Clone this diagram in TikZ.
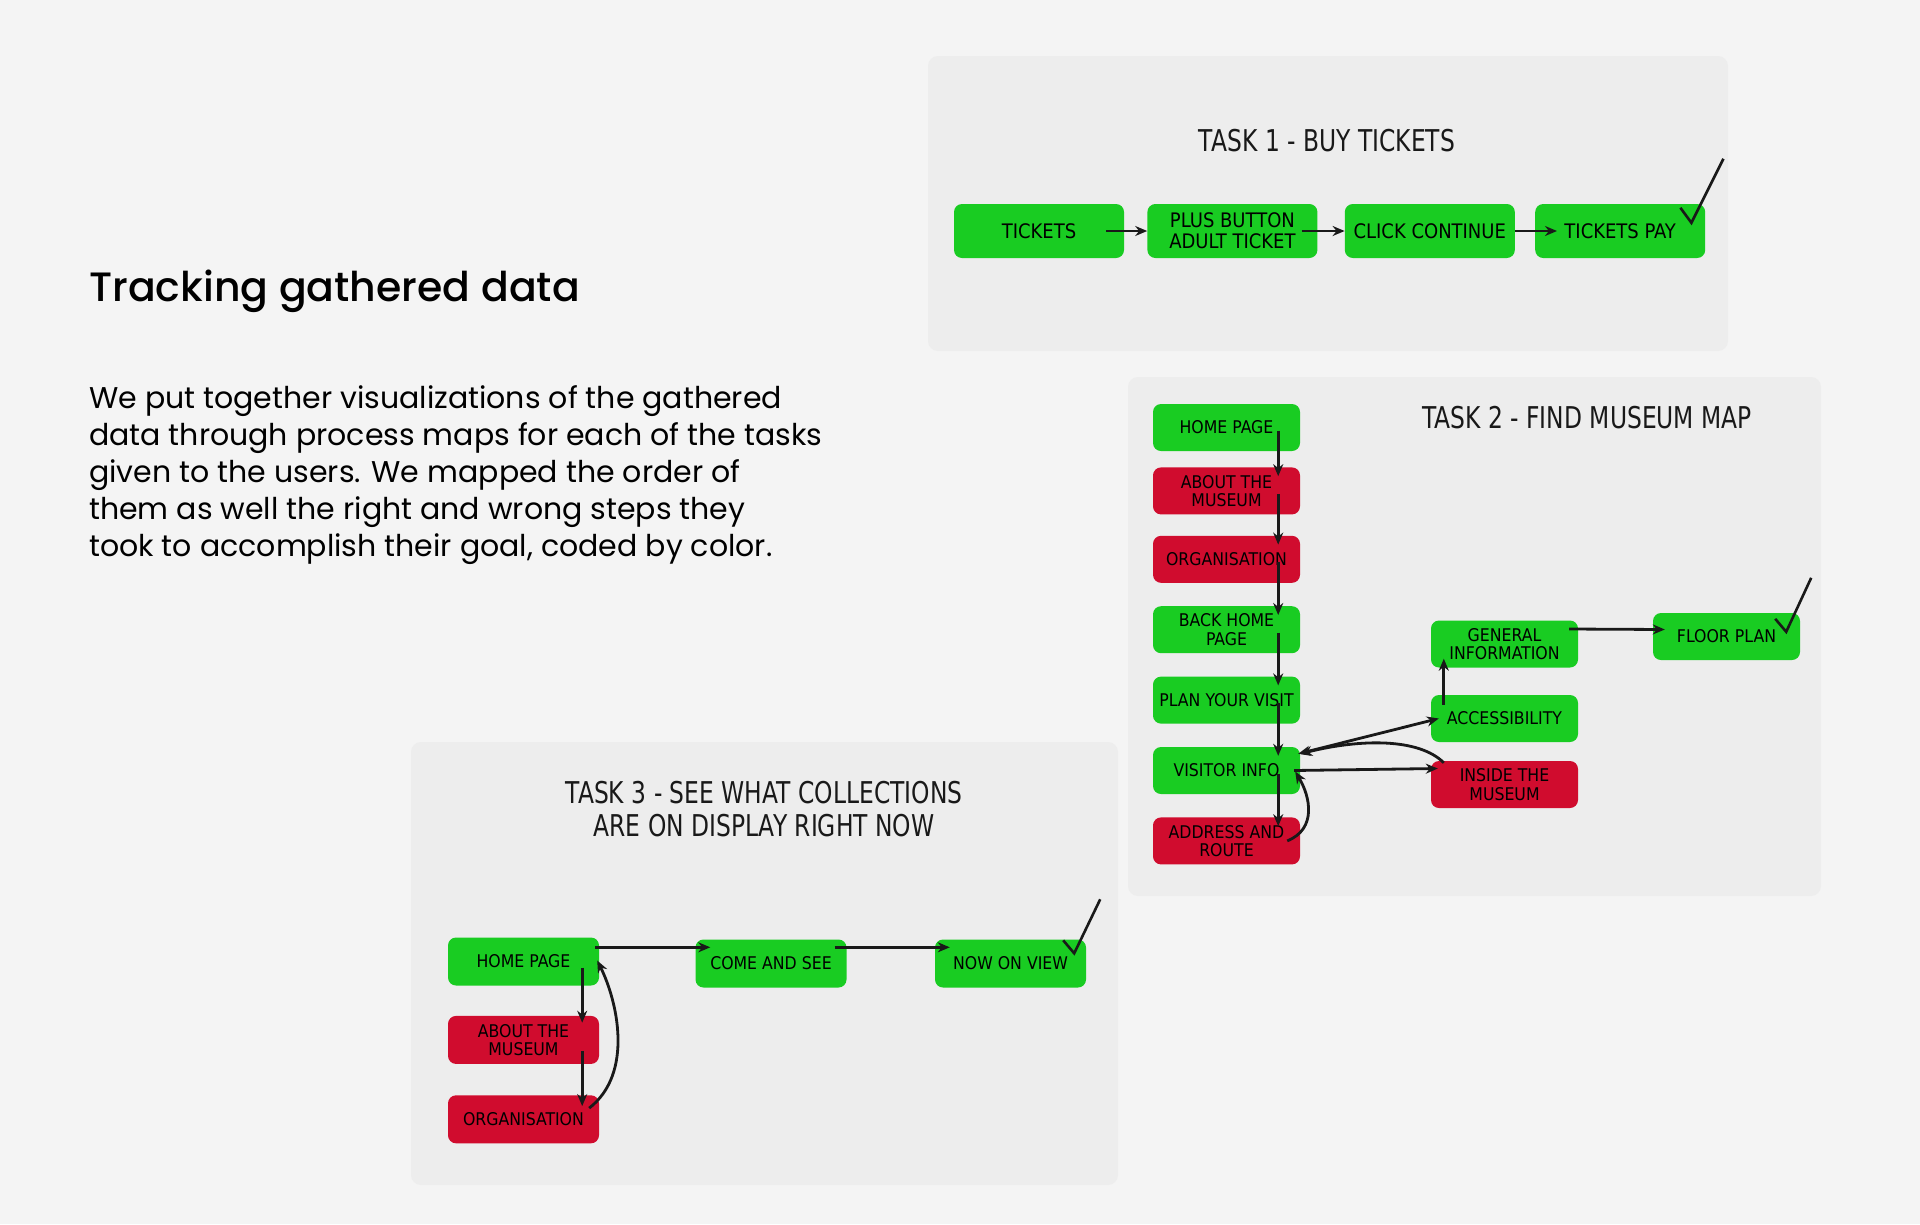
\documentclass[tikz,border=0pt]{standalone}
\usepackage{fontspec}
\setmainfont{Poppins}
\newfontfamily\headfont{Poppins Medium}
\newfontfamily\stepfont{DejaVu Sans Condensed}
\newfontfamily\titlefont{DejaVu Sans}[FakeStretch=0.78]
\usetikzlibrary{calc,positioning,arrows.meta}
\definecolor{pagegrey}{HTML}{F4F4F4}
\definecolor{panelgrey}{HTML}{EDEDED}
\definecolor{okgreen}{HTML}{19CC22}
\definecolor{wrongred}{HTML}{D00C2E}

\begin{document}
\begin{tikzpicture}[x=1pt,y=-1pt]

\tikzset{okstep/.style={font=\stepfont\fontsize{17.5}{18.5}\selectfont,fill=okgreen,rounded corners=8pt,minimum width=147pt,minimum height=47pt,align=center,inner sep=2pt},
wrongstep/.style={okstep,fill=wrongred},
bigstep/.style={font=\stepfont\fontsize{20}{21}\selectfont,minimum width=170pt,minimum height=54pt},
panel/.style={fill=panelgrey,rounded corners=10pt},
tasktitle/.style={font=\titlefont\fontsize{30}{33}\selectfont,text=black!90,align=center},
flow/.style={-{Stealth[length=12pt,width=10pt]},line width=2.8pt,black!90},
tick/.style={line width=2.6pt,black!90}}

% Page and panels
\fill[pagegrey] (0,0) rectangle (1920,1224);
\fill[panel] (928,56) rectangle (1728,351);
\fill[panel] (1128,377) rectangle (1821,896);
\fill[panel] (411,742) rectangle (1118,1185);

% Left text
\node[anchor=base west,inner sep=0pt,font=\headfont\fontsize{41}{48}\selectfont] (heading) at (89,301) {Tracking gathered data};
\node[anchor=north west,align=left,inner sep=0pt,font=\fontsize{30}{37}\selectfont] (blurb) at (89,385) {We put together visualizations of the gathered\\data through process maps for each of the tasks\\given to the users. We mapped the order of\\them as well the right and wrong steps they\\took to accomplish their goal, coded by color.};

% Task 1
\node[tasktitle] (titleone) at (1327,141) {TASK 1 - BUY TICKETS};
\node[okstep,bigstep] (tickets) at (1039,231) {TICKETS};
\node[okstep,bigstep,right=23pt of tickets] (plusbtn) {PLUS BUTTON\\ADULT TICKET};
\node[okstep,bigstep,right=27pt of plusbtn] (clickcont) {CLICK CONTINUE};
\node[okstep,bigstep,right=20pt of clickcont] (ticketspay) {TICKETS PAY};

\draw[flow] ($(tickets.east)+(-18,0)$) -- (plusbtn.west);
\draw[flow] ($(plusbtn.east)+(-16,0)$) -- (clickcont.west);
\draw[flow] (clickcont.east) -- ($(ticketspay.west)+(22,0)$);
\draw[tick] ($(ticketspay.north east)+(-25,4)$) -- ++(11,15) -- ++(32,-64);

% Task 2
\node[tasktitle] (titletwo) at (1587,418) {TASK 2 - FIND MUSEUM MAP};
\node[okstep] (home) at (1226.5,427.5) {HOME PAGE};
\node[wrongstep,below=16pt of home] (about) {ABOUT THE\\MUSEUM};
\node[wrongstep,below=21pt of about] (organ) {ORGANISATION};
\node[okstep,below=23pt of organ] (backhome) {BACK HOME\\PAGE};
\node[okstep,below=23pt of backhome] (planvisit) {PLAN YOUR VISIT};
\node[okstep,below=23pt of planvisit] (visitor) {VISITOR INFO};
\node[wrongstep,below=23pt of visitor] (address) {ADDRESS AND\\ROUTE};

\node[okstep] (general) at (1504.5,644) {GENERAL\\INFORMATION};
\node[okstep] (access) at (1504.5,718.5) {ACCESSIBILITY};
\node[wrongstep] (inside) at (1504.5,784.5) {INSIDE THE\\MUSEUM};
\node[okstep] (floorplan) at (1726.5,636.5) {FLOOR PLAN};

\foreach \a/\b in {home/about,about/organ,organ/backhome,backhome/planvisit,planvisit/visitor,visitor/address}
  \draw[flow] ($(\a.east)+(-22,3)$) -- ($(\b.north east)+(-22,9)$);
\draw[flow] ($(access.north west)+(13,10)$) -- ($(general.south west)+(13,-9)$);
\draw[flow] ($(general.east)+(-9,-15)$) -- ($(floorplan.west)+(12,-7)$);
\draw[flow,{Stealth[length=12pt,width=10pt]}-{Stealth[length=12pt,width=10pt]}] ($(visitor.north east)+(-2,7)$) -- ($(access.west)+(8,0)$);
\draw[flow] ($(visitor.east)+(-6,0)$) -- ($(inside.west)+(7,-16)$);
\draw[flow] ($(inside.north west)+(13,2)$) .. controls +(-25,-25) and +(60,-15) .. ($(visitor.north east)+(0,7)$);
\draw[flow] ($(address.east)+(-13,0)$) .. controls +(30,-12) and +(15,25) .. ($(visitor.east)+(-5,1)$);
\draw[tick] ($(floorplan.north east)+(-25,6)$) -- ++(11,13) -- ++(25,-54);

% Task 3
\node[tasktitle] (titlethree) at (764,809) {TASK 3 - SEE WHAT COLLECTIONS\\ARE ON DISPLAY RIGHT NOW};
\node[okstep,minimum width=151pt,minimum height=48pt] (homethree) at (523.5,961.5) {HOME PAGE};
\node[wrongstep,minimum width=151pt,minimum height=48pt,below=30pt of homethree] (aboutthree) {ABOUT THE\\MUSEUM};
\node[wrongstep,minimum width=151pt,minimum height=48pt,below=31pt of aboutthree] (organthree) {ORGANISATION};
\node[okstep,minimum width=151pt,minimum height=48pt] (comesee) at (771,963.5) {COME AND SEE};
\node[okstep,minimum width=151pt,minimum height=48pt] (nowview) at (1010.5,963.5) {NOW ON VIEW};

\draw[flow] ($(homethree.north east)+(-4,10)$) -- ($(comesee.north west)+(15,8)$);
\draw[flow] ($(comesee.north east)+(-12,8)$) -- ($(nowview.north west)+(15,8)$);
\draw[flow] ($(homethree.east)+(-17,6)$) -- ($(aboutthree.north east)+(-17,7)$);
\draw[flow] ($(aboutthree.east)+(-17,11)$) -- ($(organthree.north east)+(-17,11)$);
\draw[flow] ($(organthree.north east)+(-10,13)$) .. controls +(45,-35) and +(20,40) .. ($(homethree.east)+(-2,-1)$);
\draw[tick] ($(nowview.north east)+(-23,1)$) -- ++(11,13) -- ++(26,-54);

\end{tikzpicture}
\end{document}
